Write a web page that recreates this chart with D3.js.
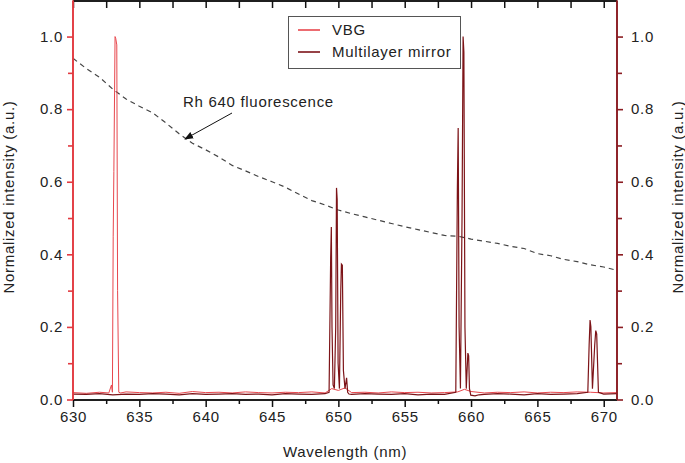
<!DOCTYPE html>
<html><head><meta charset="utf-8">
<script src="https://cdn.jsdelivr.net/npm/d3@7"></script>
<style>
body{margin:0;background:#fff;}
text{font-family:"Liberation Sans",Arial,sans-serif;letter-spacing:0.7px;}
</style></head>
<body><svg id="c" width="685" height="463"></svg>
<script>
// ---- data ----
const xTicks = [630,635,640,645,650,655,660,665,670];
const yTicks = [0,0.2,0.4,0.6,0.8,1.0];
const seriesNames = ["VBG","Multilayer mirror"];
const annotationText = "Rh 640 fluorescence";

// Rh 640 fluorescence (dashed), 1 nm steps
const fluoX = [630,631,632,633,634,635,636,637,638,639,640,641,642,643,644,645,646,647,648,649,650,651,652,653,654,655,656,657,658,659,660,661,662,663,664,665,666,667,668,669,670,671];
const fluoY = [0.940,0.912,0.888,0.855,0.828,0.808,0.790,0.762,0.732,0.706,0.688,0.668,0.645,0.630,0.614,0.600,0.585,0.566,0.548,0.536,0.522,0.512,0.503,0.494,0.485,0.476,0.468,0.460,0.452,0.450,0.442,0.436,0.430,0.422,0.416,0.402,0.396,0.386,0.380,0.371,0.365,0.356];

// VBG spectrum
const vbgX = [630,631,632,632.7,632.9,632.97,633.03,633.08,633.17,633.22,633.3,633.36,633.45,633.6,634,635,636,637,638,639,640,641,642,643,644,645,646,647,648,649,649.5,650,650.5,651,652,653,654,655,656,657,658,659,659.5,660,661,662,663,664,665,666,667,668,669,670,671];
const vbgY = [0.019,0.017,0.020,0.018,0.040,0.020,0.450,0.628,1.000,0.995,0.977,0.300,0.020,0.018,0.021,0.019,0.018,0.020,0.017,0.022,0.019,0.020,0.018,0.021,0.019,0.018,0.020,0.019,0.021,0.018,0.030,0.025,0.032,0.019,0.020,0.018,0.021,0.019,0.020,0.018,0.019,0.021,0.028,0.022,0.018,0.020,0.019,0.021,0.018,0.020,0.019,0.021,0.020,0.018,0.019];

// Multilayer mirror spectrum
const mlX = [630,631,632,633,634,635,636,637,638,639,640,641,642,643,644,645,646,647,648,649,649.3,649.42,649.47,649.52,649.6,649.7,649.8,649.86,649.91,649.98,650.08,650.18,650.23,650.3,650.38,650.5,650.62,650.7,650.8,651,652,653,654,655,656,657,658,658.85,658.97,659.03,659.1,659.2,659.32,659.4,659.46,659.54,659.64,659.76,659.82,659.88,659.98,660.3,660.6,661,662,663,664,665,666,667,668,668.8,668.9,668.97,669.03,669.15,669.32,669.4,669.47,669.6,670,671];
const mlY = [0.015,0.014,0.016,0.013,0.015,0.014,0.016,0.015,0.013,0.016,0.014,0.015,0.016,0.014,0.015,0.013,0.016,0.015,0.014,0.016,0.020,0.390,0.475,0.200,0.040,0.030,0.200,0.583,0.552,0.100,0.030,0.300,0.373,0.370,0.080,0.030,0.060,0.020,0.015,0.014,0.016,0.015,0.014,0.016,0.013,0.015,0.014,0.020,0.585,0.748,0.200,0.030,0.500,1.000,0.957,0.200,0.030,0.128,0.120,0.030,0.012,0.010,0.013,0.014,0.016,0.015,0.013,0.016,0.014,0.015,0.016,0.020,0.150,0.219,0.200,0.030,0.150,0.190,0.180,0.020,0.015,0.016];

// ---- layout ----
const svg = d3.select("#c");
const L = 73, R = 617, T = 1, B = 400;
const x = d3.scaleLinear().domain([630,671]).range([L,R]);
const y = d3.scaleLinear().domain([0,1.098]).range([B-0.5,T]);
const C_VBG = "#e8474d", C_ML = "#7d1418";
const C_LAX = "#e23a40", C_RAX = "#8b1c22";
const FS = 15;

// data lines
const line = d3.line().x(d=>x(d[0])).y(d=>y(d[1]));
const g = svg.append("g");
g.append("path").datum(fluoX.map((v,i)=>[v,fluoY[i]]))
  .attr("d",line).attr("fill","none").attr("stroke","#444").attr("stroke-width",1.2)
  .attr("stroke-dasharray","5,4");
g.append("path").datum(vbgX.map((v,i)=>[v,vbgY[i]]))
  .attr("d",line).attr("fill","none").attr("stroke",C_VBG).attr("stroke-width",1);
g.append("path").datum(mlX.map((v,i)=>[v,mlY[i]]))
  .attr("d",line).attr("fill","none").attr("stroke",C_ML).attr("stroke-width",1.2);

const fmt = d3.format(".1f");
const minorX = d3.range(632.5,671,5);
const minorY = d3.range(0.1,1.1,0.2);

// bottom axis
const bx = svg.append("g").attr("transform",`translate(0,${B})`);
bx.call(d3.axisBottom(x).tickValues(xTicks).tickSize(7).tickPadding(4).tickFormat(d3.format("d")));
bx.selectAll(".tick text").attr("font-size",FS).attr("fill","#222");
bx.append("g").call(d3.axisBottom(x).tickValues(minorX).tickSize(4).tickFormat(""));
bx.selectAll("path,line").attr("stroke","#111").attr("stroke-width",1.5);
bx.selectAll(".domain").attr("d",`M${L},0H${R}`);

// top axis
const tx = svg.append("g").attr("transform",`translate(0,${T})`);
tx.call(d3.axisTop(x).tickValues(xTicks).tickSize(-7).tickFormat(""));
tx.append("g").call(d3.axisTop(x).tickValues(minorX).tickSize(-7).tickFormat(""));
tx.selectAll("path,line").attr("stroke","#111").attr("stroke-width",1.5);
tx.selectAll(".domain").attr("d",`M${L},0H${R}`);

// left axis
const ly = svg.append("g").attr("transform",`translate(${L},0)`);
ly.call(d3.axisLeft(y).tickValues(yTicks).tickSize(6).tickPadding(4).tickFormat(fmt));
ly.append("g").call(d3.axisLeft(y).tickValues(minorY).tickSize(5).tickFormat(""));
ly.selectAll("path,line").attr("stroke",C_LAX).attr("stroke-width",1.6);
ly.selectAll(".domain").attr("d",`M0,${B}V${T-0.5}`);
ly.selectAll(".tick text").attr("font-size",FS).attr("fill","#222");

// right axis
const ry = svg.append("g").attr("transform",`translate(${R},0)`);
ry.call(d3.axisRight(y).tickValues(yTicks).tickSize(6).tickPadding(8).tickFormat(fmt));
ry.append("g").call(d3.axisRight(y).tickValues(minorY).tickSize(5).tickFormat(""));
ry.selectAll("path,line").attr("stroke",C_RAX).attr("stroke-width",1.6);
ry.selectAll(".domain").attr("d",`M0,${B}V${T-0.5}`);
ry.selectAll(".tick text").attr("font-size",FS).attr("fill","#222");

// axis titles
svg.append("text").attr("x",(L+R)/2).attr("y",457).attr("text-anchor","middle")
  .attr("font-size",FS).attr("fill","#222").text("Wavelength (nm)");
svg.append("text").attr("transform","translate(14,197) rotate(-90)").attr("text-anchor","middle")
  .attr("font-size",FS).attr("fill","#222").text("Normalized intensity (a.u.)");
svg.append("text").attr("transform","translate(683,197) rotate(-90)").attr("text-anchor","middle")
  .attr("font-size",FS).attr("fill","#222").text("Normalized intensity (a.u.)");

// legend
const lg = svg.append("g");
lg.append("rect").attr("x",288.5).attr("y",16.5).attr("width",172).attr("height",52)
  .attr("fill","#fff").attr("stroke","#555").attr("stroke-width",1);
[C_VBG,C_ML].forEach((c,i)=>{
  const yy = 30 + i*22;
  lg.append("line").attr("x1",298).attr("x2",320).attr("y1",yy).attr("y2",yy).attr("stroke",c).attr("stroke-width",1.6);
  lg.append("text").attr("x",332).attr("y",yy+5).attr("font-size",FS).attr("fill","#222").text(seriesNames[i]);
});

// annotation
const defs = svg.append("defs");
defs.append("marker").attr("id","ah").attr("viewBox","0 0 10 10").attr("refX",9).attr("refY",5)
  .attr("markerWidth",9).attr("markerHeight",9).attr("orient","auto")
  .append("path").attr("d","M0,1L10,5L0,9z").attr("fill","#111");
svg.append("text").attr("x",183).attr("y",107).attr("font-size",FS).attr("fill","#222").text(annotationText);
svg.append("line").attr("x1",232).attr("y1",113).attr("x2",185).attr("y2",139)
  .attr("stroke","#111").attr("stroke-width",1).attr("marker-end","url(#ah)");
</script></body></html>
